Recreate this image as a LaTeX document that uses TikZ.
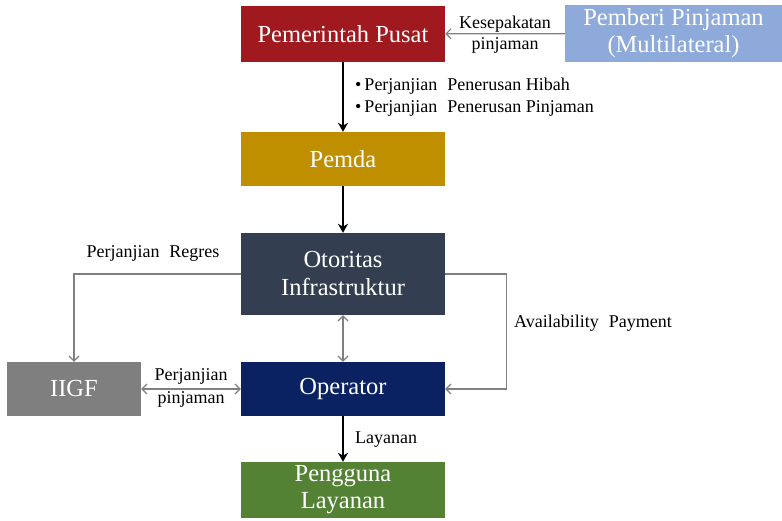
\documentclass[tikz,border=0pt]{standalone}
\usepackage{fontspec}
\setmainfont{Liberation Serif}
\usetikzlibrary{arrows.meta}
\definecolor{pusatred}{HTML}{A0191E}
\definecolor{lenderblue}{HTML}{8EAADB}
\definecolor{pemdagold}{HTML}{BF8F00}
\definecolor{otoslate}{HTML}{333F50}
\definecolor{opnavy}{HTML}{0A2262}
\definecolor{iigfgrey}{HTML}{7F7F7F}
\definecolor{usergreen}{HTML}{548235}
\definecolor{linkgrey}{HTML}{808080}
\tikzset{
  box/.style={rectangle, inner sep=0pt, minimum width=204pt, text=white,
    font=\fontsize{24.5}{27}\selectfont, align=center},
  lbl/.style={text=black, font=\fontsize{18}{22}\selectfont, inner sep=0pt},
  thin link/.style={draw=linkgrey, line width=1.2pt, -{Straight Barb[length=5pt,width=10pt]}},
  thin both/.style={draw=linkgrey, line width=1.2pt, {Straight Barb[length=5pt,width=10pt]}-{Straight Barb[length=5pt,width=10pt]}},
  thick link/.style={draw=black, line width=2.4pt, -{Stealth[length=9pt,width=10pt]}},
}
\begin{document}
\begin{tikzpicture}[x=1pt, y=-1pt]
\useasboundingbox (0,0) rectangle (782,520);

% boxes
\node[box, fill=pusatred, minimum height=56pt] (pusat) at (343,34) {Pemerintah Pusat};
\node[box, fill=lenderblue, minimum width=217pt, minimum height=57pt] (pemberi) at (673.5,33.5) {Pemberi Pinjaman\\(Multilateral)};
\node[box, fill=pemdagold, minimum height=54pt] (pemda) at (343,159) {Pemda};
\node[box, fill=otoslate, minimum height=82pt, font=\fontsize{24.5}{28}\selectfont] (otoritas) at (343,274) {Otoritas\\Infrastruktur};
\node[box, fill=opnavy, minimum height=54pt] (operator) at (343,389) {Operator};
\node[box, fill=usergreen, minimum height=56pt] (pengguna) at (343,490) {Pengguna\\Layanan};
\node[box, fill=iigfgrey, minimum width=134pt, minimum height=54pt] (iigf) at (74,389) {IIGF};

% connectors
\draw[thin link] (pemberi) -- (pusat);
\draw[thick link] (pusat) -- (pemda);
\draw[thick link] (pemda) -- (otoritas);
\draw[thin both] (otoritas) -- (operator);
\draw[thick link] (operator) -- (pengguna);
\draw[thin both] (iigf) -- (operator);
\draw[thin link] (otoritas.west) -| (iigf.north);
\coordinate (payturn) at ([xshift=61pt]otoritas.east);
\draw[thin link] (otoritas.east) -- (payturn) |- (operator.east);

% labels
\node[lbl, align=center, font=\fontsize{18}{21}\selectfont] (kesep) at (505,35) {Kesepakatan\\pinjaman};
\node[lbl, anchor=west, align=left] (bullets) at (355,97)
  {\textbullet\,Perjanjian\hspace{0.55em}Penerusan Hibah\\\textbullet\,Perjanjian\hspace{0.55em}Penerusan Pinjaman};
\node[lbl] (regres) at (153,253) {Perjanjian\hspace{0.55em}Regres};
\node[lbl, anchor=west] (avail) at (514,323) {Availability\hspace{0.55em}Payment};
\node[lbl, align=center, font=\fontsize{18}{23}\selectfont] (pinj) at (191,388) {Perjanjian\\pinjaman};
\node[lbl, anchor=west] (layanan) at (355,440) {Layanan};
\end{tikzpicture}
\end{document}
